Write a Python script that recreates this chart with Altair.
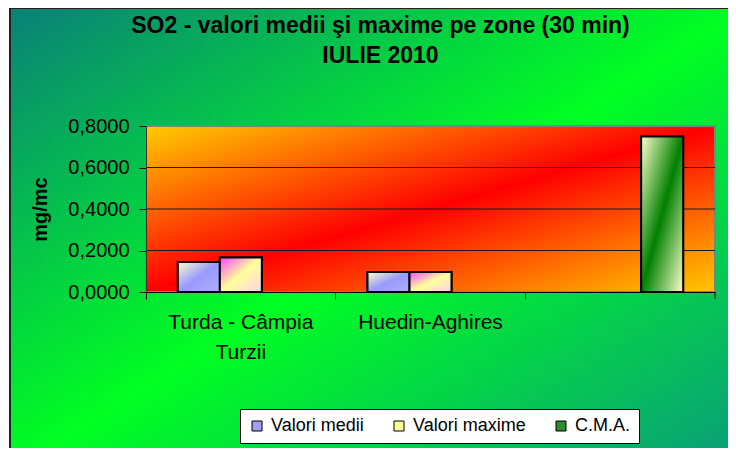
import altair as alt
import pandas as pd

# ---- data ----
categories = ["Turda - Câmpia Turzii", "Huedin-Aghires", ""]
series = ["Valori medii", "Valori maxime", "C.M.A."]
medii = [0.145, 0.096]
maxime = [0.166, 0.096]
cma = [0.75]
y_ticks = [0.0, 0.2, 0.4, 0.6, 0.8]
grid_vals = [0.2, 0.4, 0.6]
legend_colors = ["#a0a0f0", "#ffff99", "#2e8b2e"]

rows = []
for c, v in zip(categories[:2], medii):
    rows.append({"cat": c, "series": series[0], "value": v})
for c, v in zip(categories[:2], maxime):
    rows.append({"cat": c, "series": series[1], "value": v})
rows.append({"cat": categories[2], "series": series[2], "value": cma[0]})
df = pd.DataFrame(rows)

W, H = 569, 166
FONT = "Liberation Sans"


def grad(c0, c1, c2):
    return alt.LinearGradient(
        gradient="linear",
        stops=[alt.GradientStop(offset=0, color=c0),
               alt.GradientStop(offset=0.5, color=c1),
               alt.GradientStop(offset=1, color=c2)],
        x1=0, y1=0, x2=1, y2=1)


one = alt.Data(values=[{"a": 1}])

bg = alt.Chart(one).mark_rect(
    color=grad("#0a8078", "#00ff22", "#0a9a7c"), stroke="#222222", strokeWidth=2
).encode(x=alt.value(-136), x2=alt.value(W + 30), y=alt.value(-118), y2=alt.value(H + 180))

plotbg = alt.Chart(one).mark_rect(
    color=grad("#ffcc00", "#ff0000", "#ffc800"), stroke="#808080", strokeWidth=2
).encode(x=alt.value(0), x2=alt.value(W), y=alt.value(0), y2=alt.value(H))

yscale = alt.Scale(domain=[0, 0.8], nice=False, zero=True)
xscale = alt.Scale(domain=categories, paddingInner=0, paddingOuter=0)
xoff_scale = alt.Scale(domain=series, paddingInner=0, paddingOuter=0.758)

grid = alt.Chart(pd.DataFrame({"g": grid_vals})).mark_rule(
    color="#1a1a1a", strokeWidth=1
).encode(y=alt.Y("g:Q", scale=yscale))

right_tick = alt.Chart(one).mark_rule(color="black", strokeWidth=1).encode(
    x=alt.value(W), y=alt.value(H), y2=alt.value(H + 7))

xaxis = alt.Axis(
    title=None, labelAngle=0, bandPosition=0, tickSize=7, tickColor="black",
    domainColor="black", labelColor="black", labelFont=FONT, labelFontSize=21,
    labelLineHeight=30, labelBaseline="top", labelPadding=12, grid=False,
    zindex=2,
    labelExpr="datum.value == 'Turda - Câmpia Turzii' ? ['Turda - Câmpia', 'Turzii'] : datum.value",
)
yaxis = alt.Axis(
    title="mg/mc", values=y_ticks, grid=False, tickSize=7, tickColor="black",
    domainColor="#333333", labelColor="black", labelFont=FONT, labelFontSize=20,
    labelPadding=10, titleFont=FONT, titleFontSize=20, titleFontWeight="bold",
    titleColor="black", titleX=-106, titleY=H / 2, titleBaseline="middle",
    titleAngle=270, titleAlign="center", zindex=2,
    labelExpr="replace(format(datum.value, '.4f'), '.', ',')",
)

base = alt.Chart(df).encode(
    x=alt.X("cat:N", scale=xscale, axis=xaxis, sort=categories),
    xOffset=alt.XOffset("series:N", scale=xoff_scale, sort=series),
    y=alt.Y("value:Q", scale=yscale, axis=yaxis),
)

bars = base.mark_bar(stroke="black", strokeWidth=2).encode(
    color=alt.Color(
        "series:N",
        scale=alt.Scale(domain=series, range=legend_colors),
        sort=series,
        legend=alt.Legend(
            title=None, orient="none", legendX=94, legendY=283,
            direction="horizontal", columns=3, fillColor="white",
            strokeColor="black", padding=8, symbolType="square",
            symbolSize=100, symbolStrokeColor="black", symbolStrokeWidth=1,
            labelFontSize=18, labelFont=FONT, labelColor="black",
            columnPadding=26, labelOffset=5, zindex=2,
        ),
    )
)

bar_grads = [
    grad("#ffffcc", "#9999ff", "#b0b0f8"),
    grad("#ff44ff", "#ffff99", "#ffd0ee"),
    grad("#ffffcc", "#008000", "#ffffcc"),
]
overlays = [
    base.transform_filter(alt.datum.series == s).mark_bar(
        color=g, stroke="black", strokeWidth=2)
    for s, g in zip(series, bar_grads)
]

chart = alt.layer(bg, plotbg, grid, bars, *overlays, right_tick).properties(
    width=W, height=H,
    autosize=alt.AutoSizeParams(type="none"),
    padding={"left": 138, "top": 118, "right": 720 - 138 - W, "bottom": 440 - 118 - H},
    title=alt.TitleParams(
        text=["SO2 - valori medii şi maxime pe zone (30 min)", "IULIE 2010"],
        font=FONT, fontSize=23, fontWeight="bold", color="black",
        anchor="middle", frame="group", dx=-50, offset=-61, lineHeight=30,
        zindex=2,
    ),
).configure_view(stroke="transparent").configure(background="white")

chart.save("out.html", embed_options={"renderer": "svg", "actions": False})
